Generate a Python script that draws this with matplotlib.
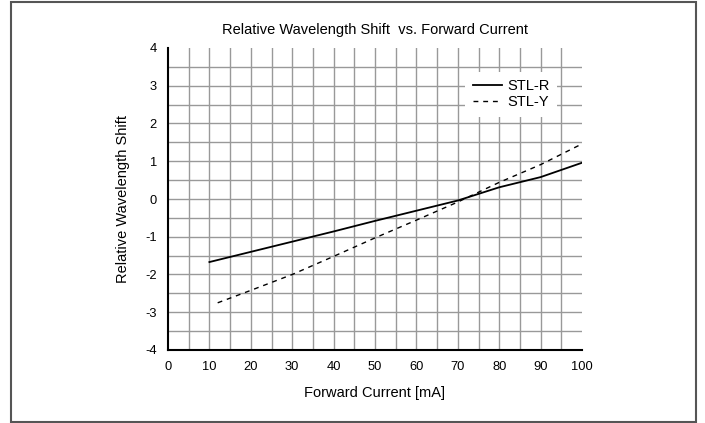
import numpy as np
import matplotlib
matplotlib.use("Agg")
import matplotlib.pyplot as plt
from matplotlib.patches import Rectangle

plt.rcParams['font.family'] = ['Liberation Sans', 'DejaVu Sans']
plt.rcParams['axes.unicode_minus'] = False

# values
current_r = [10, 20, 30, 40, 50, 60, 70, 80, 90, 100]
shift_r = [-1.67, -1.40, -1.13, -0.86, -0.58, -0.31, -0.04, 0.31, 0.58, 0.96]

current_y = [12, 20, 30, 40, 50, 60, 70, 80, 90, 100]
shift_y = [-2.75, -2.42, -2.00, -1.52, -1.03, -0.56, -0.08, 0.44, 0.91, 1.46]

x_ticks = list(range(0, 101, 10))
y_ticks = list(range(-4, 5))

fig = plt.figure(figsize=(7.05, 4.23), dpi=100)
ax = fig.add_axes([168/705, 1 - 350/423, 414/705, 302/423])

# grid: every 5 mA and every 0.5 shift, no lines on the outer edges
for gx in np.arange(5, 100, 5):
    ax.axvline(gx, color='#999999', lw=1.0, zorder=0)
for gy in np.arange(-3.5, 4.0, 0.5):
    ax.axhline(gy, color='#999999', lw=1.0, zorder=0)

ax.plot(current_r, shift_r, color='black', lw=1.3, label='STL-R', zorder=3)
ax.plot(current_y, shift_y, color='black', lw=1.0, dashes=(3.5, 3.5),
        label='STL-Y', zorder=3)

ax.set_xlim(0, 100)
ax.set_ylim(-4, 4)
ax.set_xticks(x_ticks)
ax.set_yticks(y_ticks)
ax.tick_params(length=0, labelsize=9.3, pad=8)

for side in ['top', 'right']:
    ax.spines[side].set_visible(False)
for side in ['left', 'bottom']:
    ax.spines[side].set_linewidth(1.5)
    ax.spines[side].set_color('black')

ax.set_title('Relative Wavelength Shift  vs. Forward Current', fontsize=10.5, pad=10)
ax.set_xlabel('Forward Current [mA]', fontsize=10.5, labelpad=9)
ax.set_ylabel('Relative Wavelength Shift', fontsize=10.5, labelpad=11)

leg = ax.legend(loc='upper right', bbox_to_anchor=(0.958, 0.945), fontsize=10.5,
                frameon=True, fancybox=False, framealpha=1, edgecolor='white',
                handlelength=2.0, handletextpad=0.4, labelspacing=0.15,
                borderpad=0.5)
leg.get_frame().set_linewidth(0)

# outer border around the whole chart
fig.patches.append(Rectangle((11/705, 1/423), 685/705, 421/423 - 1/423,
                             transform=fig.transFigure, fill=False,
                             edgecolor='#555555', lw=1.5))

fig.savefig('out.png', dpi=100)
